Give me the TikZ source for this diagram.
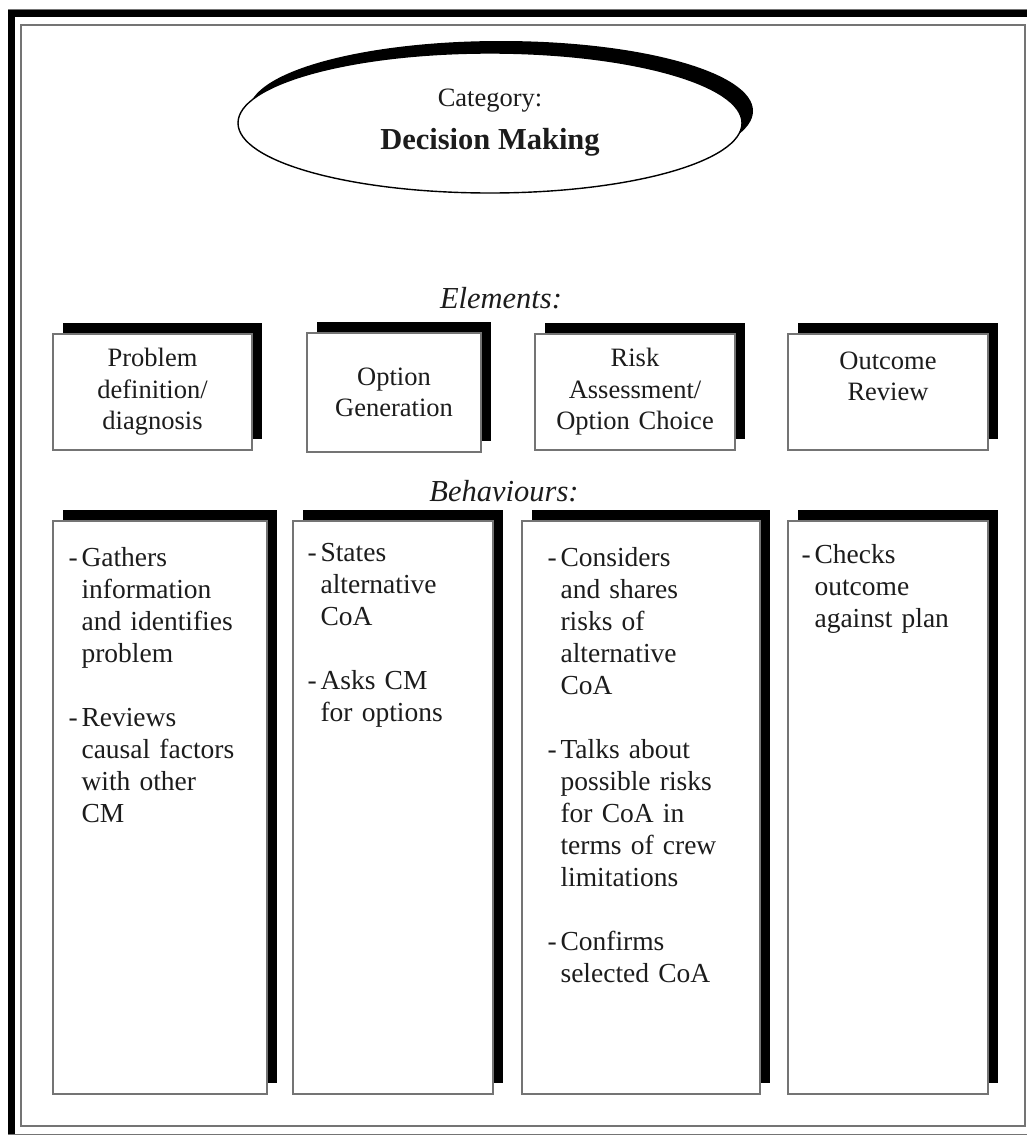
\documentclass[tikz,border=0pt]{standalone}
\usepackage{fontspec}
\setmainfont{Liberation Serif}
\usetikzlibrary{positioning,shapes.geometric,shadows}

\definecolor{framegray}{HTML}{747474}
\definecolor{inkgray}{HTML}{1C1C1C}

% one item of a behaviour list, lines after the first hang under the text
\newcommand{\bpoint}[1]{\par\hangindent=13pt\hangafter=1\noindent\makebox[13pt][l]{-}#1\par}
\newcommand{\bgap}{\vskip 32pt}

\begin{document}
\begin{tikzpicture}[x=1pt,y=-1pt,
    catell/.style={ellipse, draw=black, line width=1.4pt, fill=white, inner sep=0pt,
      minimum width=504pt, minimum height=140pt, align=center, text=inkgray,
      font=\fontsize{26.5}{43}\selectfont,
      general shadow={fill=black, shadow xshift=11pt, shadow yshift=12pt}},
    sectlabel/.style={anchor=base, inner sep=0pt, text=inkgray,
      font=\fontsize{30.5}{36}\selectfont\itshape},
    elembox/.style={draw=framegray, line width=1.3pt, fill=white, inner sep=0pt,
      minimum height=116pt, text width=165pt, align=center, text=inkgray,
      font=\fontsize{26.5}{31.5}\selectfont,
      general shadow={fill=black, shadow xshift=9.5pt, shadow yshift=11pt}},
    behbox/.style={draw=framegray, line width=1.3pt, fill=white, inner sep=0pt,
      minimum height=573pt,
      general shadow={fill=black, shadow xshift=10pt, shadow yshift=11pt}},
    behtext/.style={anchor=north west, inner sep=0pt, text width=185pt, align=left,
      text=inkgray, font=\fontsize{27.5}{32}\selectfont}]

  \useasboundingbox (0,0) rectangle (1027,1135);

  % Outer frame, heavy on top and left
  \draw[framegray, line width=1pt] (8,9) -- (1027,9);
  \fill[black] (8,10) rectangle (1027,17);
  \fill[black] (8,10) rectangle (15,1135);
  \draw[framegray, line width=1pt] (8,1134) -- (1027,1134);

  % Inner frame
  \draw[framegray, line width=1.3pt] (21,25) rectangle (1025,1126);

  % Category
  \node[catell] (cat) at (490,123)
    {Category:\\{\bfseries\fontsize{30.5}{43}\selectfont Decision Making}};

  % Elements
  \node[sectlabel] (elements) at (501,308) {Elements:};
  \node[elembox, minimum width=199pt] (probdef) at (152.5,392) {Problem\\definition/\\diagnosis};
  \node[elembox, minimum width=174pt, minimum height=119pt] (optgen) at (394,392.5) {Option\\Generation};
  \node[elembox, minimum width=200pt] (riskass) at (635,392) {Risk\\Assessment/\\Option Choice};
  \node[elembox, minimum width=200pt] (outrev) at (888,392) {Outcome\\Review\\\phantom{Review}};

  % Behaviours
  \node[sectlabel] (behaviours) at (504,501) {Behaviours:};
  \node[behbox, minimum width=214pt] (behprob) at (160,807.5) {};
  \node[behbox, minimum width=200pt] (behopt) at (393,807.5) {};
  \node[behbox, minimum width=238pt] (behrisk) at (641,807.5) {};
  \node[behbox, minimum width=200pt] (behout) at (888,807.5) {};

  \node[behtext] (probtxt) at ([xshift=16pt, yshift=-14pt]behprob.north west)
    {\bpoint{Gathers\newline information\newline and identifies\newline problem}\bgap
     \bpoint{Reviews\newline causal factors\newline with other\newline CM}};
  \node[behtext] (opttxt) at ([xshift=15pt, yshift=-9pt]behopt.north west)
    {\bpoint{States\newline alternative\newline CoA}\bgap
     \bpoint{Asks CM\newline for options}};
  \node[behtext] (risktxt) at ([xshift=26pt, yshift=-14pt]behrisk.north west)
    {\bpoint{Considers\newline and shares\newline risks of\newline alternative\newline CoA}\bgap
     \bpoint{Talks about\newline possible risks\newline for CoA in\newline terms of crew\newline limitations}\bgap
     \bpoint{Confirms\newline selected CoA}};
  \node[behtext] (outtxt) at ([xshift=14pt, yshift=-11pt]behout.north west)
    {\bpoint{Checks\newline outcome\newline against plan}};

\end{tikzpicture}
\end{document}
